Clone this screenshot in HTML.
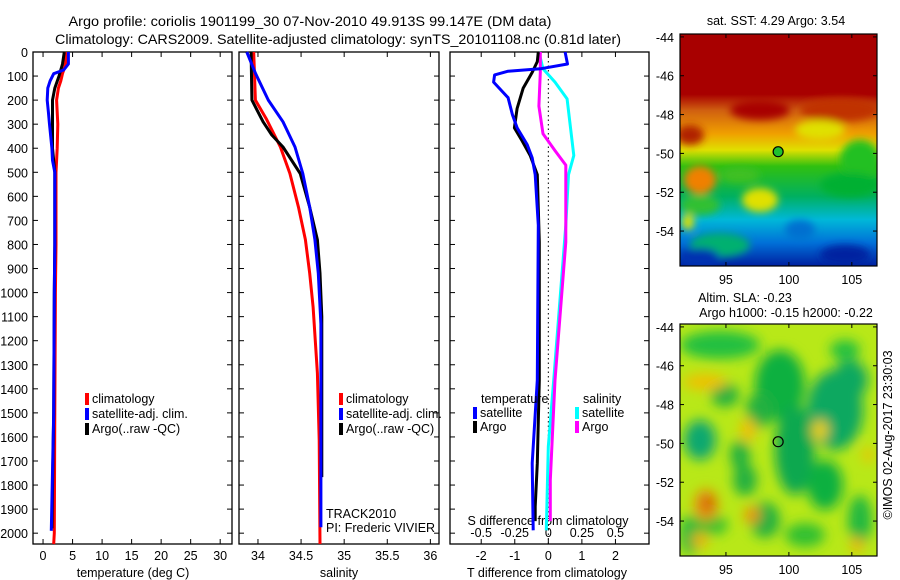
<!DOCTYPE html>
<html><head><meta charset="utf-8"><style>
html,body{margin:0;padding:0;background:#fff;}
svg{display:block;font-family:"Liberation Sans",sans-serif;}
text{fill:#000;}
</style></head><body>
<svg id="c" width="900" height="580" viewBox="0 0 900 580">
<defs>
<filter id="bl" x="-30%" y="-30%" width="160%" height="160%"><feGaussianBlur stdDeviation="6"/></filter>
<filter id="bl2" x="-30%" y="-30%" width="160%" height="160%"><feGaussianBlur stdDeviation="4"/></filter>
<clipPath id="cm1"><rect x="680" y="34" width="197" height="232"/></clipPath>
<clipPath id="cm2"><rect x="680" y="324" width="197" height="232"/></clipPath>
<linearGradient id="sst" x1="0" y1="0" x2="0" y2="1">
<stop offset="0" stop-color="#a80000"/><stop offset="0.26" stop-color="#a80000"/>
<stop offset="0.33" stop-color="#d06010"/><stop offset="0.43" stop-color="#f0a000"/>
<stop offset="0.5" stop-color="#e0e000"/><stop offset="0.57" stop-color="#30c010"/>
<stop offset="0.7" stop-color="#00b060"/><stop offset="0.8" stop-color="#00b8d8"/>
<stop offset="0.9" stop-color="#0070d8"/><stop offset="1" stop-color="#0020a0"/>
</linearGradient>
</defs>
<text x="310" y="26" font-size="14" text-anchor="middle" textLength="483" lengthAdjust="spacingAndGlyphs">Argo profile: coriolis 1901199_30 07-Nov-2010 49.913S 99.147E (DM data)</text>
<text x="338" y="44" font-size="14" text-anchor="middle" textLength="566" lengthAdjust="spacingAndGlyphs">Climatology: CARS2009. Satellite-adjusted climatology: synTS_20101108.nc (0.81d later)</text>
<g id="plots"></g>
<g id="maps"></g>
</svg>
<script>
// depth levels and series (depth in dbar)
const tDepth = [0,50,75,90,120,150,200,250,300,400,450,500,800,1000,1500,2000,2045];
const tClim  = [3.9,3.8,3.5,3.3,3.0,2.6,2.3,2.4,2.5,2.4,2.3,2.2,2.2,2.1,2.0,1.9,1.8];
const tSatDepth = [0,50,75,90,120,150,200,250,300,400,450,500,800,1000,1500,1990];
const tSat   = [4.3,4.3,3.5,1.8,1.2,0.8,0.7,0.9,1.1,1.5,1.6,2.0,2.0,1.9,1.8,1.4];
const tArgoDepth = [0,50,100,150,200,300,400,500,800,1000,1500,1980];
const tArgo  = [3.6,3.3,2.7,2.0,1.6,1.6,1.6,2.0,2.0,1.9,1.8,1.5];

const sClimDepth = [0,200,280,395,505,645,780,920,1060,1335,1613,2045];
const sClim = [33.95,33.97,34.1,34.26,34.37,34.47,34.55,34.6,34.64,34.69,34.71,34.72];
const sSatDepth = [0,88,200,290,395,505,645,780,920,1130,1500,1975];
const sSat = [33.87,33.97,34.12,34.29,34.43,34.52,34.6,34.66,34.7,34.73,34.73,34.73];
const sArgoDepth = [0,200,290,345,395,505,645,780,920,1100,1300,1767];
const sArgo = [33.92,33.93,34.06,34.16,34.29,34.49,34.6,34.69,34.72,34.74,34.74,34.74];

const dtSatDepth = [0,50,70,80,95,125,190,260,315,385,440,510,720,1364,1709,1988];
const dtSat = [0.5,0.57,-0.24,-1.2,-1.6,-1.63,-1.2,-1.07,-0.93,-0.63,-0.48,-0.39,-0.3,-0.33,-0.48,-0.45];
const dtArgoDepth = [0,40,85,150,235,315,370,430,510,790,1364,1709,1890,1950];
const dtArgo = [-0.3,-0.33,-0.48,-0.75,-0.93,-1.01,-0.78,-0.54,-0.33,-0.27,-0.27,-0.33,-0.39,-0.39];
const dsSatDepth = [0,70,125,195,290,430,510,720,1364,1640,1988];
const dsSat = [-0.07,-0.04,0.05,0.14,0.16,0.19,0.15,0.13,0.04,0.0,-0.015];
const dsArgoDepth = [0,85,225,340,410,470,580,790,1364,1780,1950];
const dsArgo = [-0.06,-0.06,-0.07,-0.04,0.05,0.13,0.13,0.13,0.05,0.015,0.015];

const depthTicks = [0,100,200,300,400,500,600,700,800,900,1000,1100,1200,1300,1400,1500,1600,1700,1800,1900,2000];
const tTicks = [0,5,10,15,20,25,30];
const sTicks = [34,34.5,35,35.5,36];
const sTickLabels = ["34","34.5","35","35.5","36"];
const dTTicks = [-2,-1,0,1,2];
const dSTicks = [-0.5,-0.25,0,0.25,0.5];
const dSTickLabels = ["-0.5","-0.25","0","0.25","0.5"];
const latTicks = [-44,-46,-48,-50,-52,-54];
const lonTicks = [95,100,105];
const argoLon = 99.147, argoLat = -49.913;

const NS='http://www.w3.org/2000/svg';
const top0=52, bot=544, dMax=2045, FS=12.5;
const yD = d => top0 + d/dMax*(bot-top0);
function mk(tag, attrs, parent){const e=document.createElementNS(NS,tag);for(const k in attrs)e.setAttribute(k,attrs[k]);parent.appendChild(e);return e;}
const G=document.getElementById('plots');
function txt(x,y,s,anchor,size,parent){const t=mk('text',{x:x,y:y,'font-size':size||FS,'text-anchor':anchor||'start'},parent||G);t.textContent=s;return t;}

const panels=[
 {x0:33,x1:232,v0:-1.7,v1:32.0,name:'temperature'},
 {x0:239,x1:439,v0:33.78,v1:36.1,name:'salinity'},
 {x0:450,x1:649,v0:-2.93,v1:3.0,name:'difference'}];
panels.forEach(p=>{p.f=v=>p.x0+(v-p.v0)/(p.v1-p.v0)*(p.x1-p.x0);});
const pT=panels[0],pS=panels[1],pD=panels[2];
const xDS = v => pD.f(v*4);

function line(depths, vals, fx, color, name){
  const pts=depths.map((d,i)=>fx(vals[i]).toFixed(1)+','+yD(d).toFixed(1)).join(' ');
  const e=mk('polyline',{points:pts,fill:'none',stroke:color,'stroke-width':3,'stroke-linejoin':'round'},G);
  
  
}

panels.forEach((p,pi)=>{
  const r=mk('rect',{x:p.x0,y:top0,width:p.x1-p.x0,height:bot-top0,fill:'none',stroke:'#000','stroke-width':1.3},G);
  
  
  depthTicks.forEach(d=>{
    mk('line',{x1:p.x0,x2:p.x0+5,y1:yD(d),y2:yD(d),stroke:'#000'},G);
    mk('line',{x1:p.x1,x2:p.x1-5,y1:yD(d),y2:yD(d),stroke:'#000'},G);
  });
});
depthTicks.forEach(d=>{
  const t=txt(28,yD(d)+5,String(d),'end',FS);
  
  
});
function xticks(p,vals,labels,fx){
  vals.forEach((v,i)=>{
    const x=fx(v);
    mk('line',{x1:x,x2:x,y1:top0,y2:top0+5,stroke:'#000'},G);
    mk('line',{x1:x,x2:x,y1:bot,y2:bot-5,stroke:'#000'},G);
    const t=txt(x,560,labels[i],'middle',FS);
    
    
  });
}
xticks(pT,tTicks,tTicks.map(String),pT.f);
xticks(pS,sTicks,sTickLabels,pS.f);
xticks(pD,dTTicks,dTTicks.map(String),pD.f);
dSTicks.forEach((v,i)=>{
  const t=txt(xDS(v),537,dSTickLabels[i],'middle',FS);
  
  
});
let at;
at=txt(133,577,'temperature (deg C)','middle',FS);
at=txt(339,577,'salinity','middle',FS);
at=txt(547,577,'T difference from climatology','middle',FS);
at=txt(548,525,'S difference from climatology','middle',FS);

const zl=mk('line',{x1:pD.f(0),x2:pD.f(0),y1:top0,y2:bot,stroke:'#000','stroke-dasharray':'1.5,3'},G);


line(tDepth,tClim,pT.f,'#ff0000','temperature-climatology-line');
line(tArgoDepth,tArgo,pT.f,'#000000','temperature-argo-line');
line(tSatDepth,tSat,pT.f,'#0000ff','temperature-satellite-line');
line(sClimDepth,sClim,pS.f,'#ff0000','salinity-climatology-line');
line(sArgoDepth,sArgo,pS.f,'#000000','salinity-argo-line');
line(sSatDepth,sSat,pS.f,'#0000ff','salinity-satellite-line');
line(dsSatDepth,dsSat,xDS,'#00ffff','s-diff-satellite-line');
line(dsArgoDepth,dsArgo,xDS,'#ff00ff','s-diff-argo-line');
line(dtArgoDepth,dtArgo,pD.f,'#000000','t-diff-argo-line');
line(dtSatDepth,dtSat,pD.f,'#0000ff','t-diff-satellite-line');

function leg(x,y,color,label,name){
  const r=mk('rect',{x:x,y:y-10,width:4,height:12,fill:color},G);
  
  
  const t=txt(x+7,y,label,'start',FS);
  
  
}
[[85,'T'],[339,'S']].forEach(([x,k])=>{
  leg(x,403,'#ff0000','climatology',k+'-legend-climatology');
  leg(x,418,'#0000ff','satellite-adj. clim.',k+'-legend-satellite');
  leg(x,433,'#000000','Argo(..raw -QC)',k+'-legend-argo');
});
at=txt(481,403,'temperature','start',FS);
at=txt(583,403,'salinity','start',FS);
leg(473,417,'#0000ff','satellite','diff-legend-t-satellite');
leg(473,431,'#000000','Argo','diff-legend-t-argo');
leg(575,417,'#00ffff','satellite','diff-legend-s-satellite');
leg(575,431,'#ff00ff','Argo','diff-legend-s-argo');
at=txt(326,518,'TRACK2010','start',FS);
at=txt(326,532,'PI: Frederic VIVIER','start',FS);

const M=document.getElementById('maps');
const mx0=680,mx1=877,lon0=91.35,lon1=107.0;
const lonX = v => mx0+(v-lon0)/(lon1-lon0)*(mx1-mx0);
const latY = (v,t) => t+(-43.85-v)/(55.8-43.85)*232;
function mapFrame(t,name,clip){
  const g=mk('g',{'clip-path':'url(#'+clip+')'},M);
  
  
  return g;
}
const g1=mapFrame(34,'sst-map','cm1');
mk('rect',{x:680,y:34,width:197,height:232,fill:'url(#sst)'},g1);
const b1=mk('g',{filter:'url(#bl2)'},g1);
[[690,135,14,10,'#b02000'],[700,180,16,14,'#f08000'],[760,110,30,10,'#a80000'],[840,110,40,12,'#c03000'],
 [860,160,20,20,'#20c020'],[850,185,30,12,'#00b030'],[740,175,20,8,'#40c020'],[700,205,20,10,'#30c030'],
 [760,200,18,12,'#e0e000'],[720,245,30,12,'#00b070'],[700,258,20,10,'#0030b0'],[845,255,25,10,'#0020a0'],
 [800,230,15,10,'#0070d0'],[820,130,25,10,'#e0e000'],[688,222,6,8,'#e0e000']].forEach(a=>mk('ellipse',{cx:a[0],cy:a[1],rx:a[2],ry:a[3],fill:a[4]},b1));
const g2=mapFrame(324,'sla-map','cm2');
mk('rect',{x:680,y:324,width:197,height:232,fill:'#b8e818'},g2);
const b2=mk('g',{filter:'url(#bl)'},g2);
[[720,345,40,14,'#20c040'],[780,385,25,35,'#10b040'],[835,410,28,40,'#10a860'],[850,380,18,20,'#10a860'],
 [700,440,16,20,'#10a870'],[795,450,20,45,'#10a850'],[760,410,14,18,'#20b040'],[725,395,14,12,'#20b040'],
 [825,485,18,25,'#10b040'],[745,480,12,16,'#20b040'],[765,520,15,18,'#20b040'],[805,535,20,12,'#30c030'],
 [860,520,12,25,'#20b840'],[690,535,10,20,'#20b840'],[710,525,18,10,'#30c030'],[845,350,15,10,'#20c040'],[740,455,10,15,'#20b040']
].forEach(a=>mk('ellipse',{cx:a[0],cy:a[1],rx:a[2],ry:a[3],fill:a[4]},b2));
[[705,382,22,8,'#f0c000'],[706,505,12,16,'#e89010'],[708,503,5,6,'#c04000'],[752,515,8,8,'#f09000'],
 [748,430,8,12,'#f0c000'],[820,430,8,10,'#f0d000'],[700,540,8,8,'#f0b000'],[857,545,6,8,'#f0b000'],[868,455,5,8,'#f0c000']
].forEach(a=>mk('ellipse',{cx:a[0],cy:a[1],rx:a[2],ry:a[3],fill:a[4]},b2));

[[34,'sst-map'],[324,'sla-map']].forEach(([t,name])=>{
  const r=mk('rect',{x:mx0,y:t,width:mx1-mx0,height:232,fill:'none',stroke:'#000','stroke-width':1.2},M);
  
  
  latTicks.forEach(v=>{
    const y=latY(v,t);
    mk('line',{x1:mx0,x2:mx0+4,y1:y,y2:y,stroke:'#000'},M);
    mk('line',{x1:mx1,x2:mx1-4,y1:y,y2:y,stroke:'#000'},M);
    const tl=txt(674,y+5,String(v),'end',FS,M);
    
    
  });
  lonTicks.forEach(v=>{
    const x=lonX(v);
    mk('line',{x1:x,x2:x,y1:t,y2:t+4,stroke:'#000'},M);
    mk('line',{x1:x,x2:x,y1:t+232,y2:t+228,stroke:'#000'},M);
    const tl=txt(x,t+250,String(v),'middle',FS,M);
    
    
  });
  const c=mk('circle',{cx:lonX(argoLon),cy:latY(argoLat,t),r:5,fill:t<100?'#20c030':'none',stroke:'#000','stroke-width':1.2},M);
  
  
});
at=txt(776,25,'sat. SST: 4.29 Argo: 3.54','middle',FS,M);
at=txt(745,302,'Altim. SLA: -0.23','middle',FS,M);
at=txt(786,317,'Argo h1000: -0.15 h2000: -0.22','middle',FS,M);
at=txt(0,0,'©IMOS 02-Aug-2017 23:30:03','middle',FS,M);
at.setAttribute('transform','translate(892,435) rotate(-90)');

</script>
</body></html>
